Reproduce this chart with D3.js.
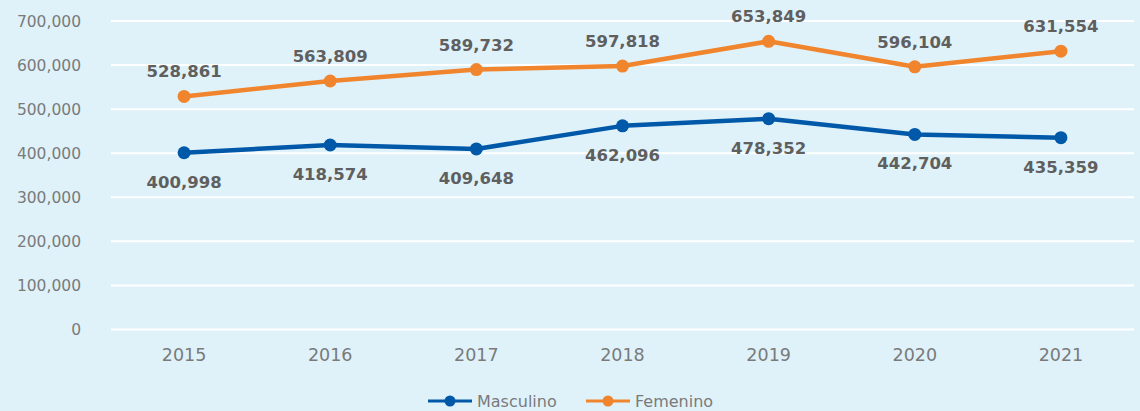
<!DOCTYPE html>
<html>
<head>
<meta charset="utf-8">
<script src="https://cdn.jsdelivr.net/npm/d3@7"></script>
<style>
  body { margin: 0; background: #dff2fa; }
  svg { display: block; }
</style>
</head>
<body>
<script>
  const years = ['2015', '2016', '2017', '2018', '2019', '2020', '2021'];
  const masculino = [400998, 418574, 409648, 462096, 478352, 442704, 435359];
  const femenino = [528861, 563809, 589732, 597818, 653849, 596104, 631554];
  const yTicks = [0, 100000, 200000, 300000, 400000, 500000, 600000, 700000];

  const width = 1140;
  const height = 411;
  const margin = { top: 21, right: 6, bottom: 81, left: 111 };

  const svg = d3.select('body')
          .append('svg')
          .attr('width', width)
          .attr('height', height);

  svg.append('rect')
          .attr('width', width)
          .attr('height', height)
          .attr('fill', '#dff2fa');

  const x = d3.scaleBand()
          .domain(years)
          .range([margin.left, width - margin.right]);

  const y = d3.scaleLinear()
          .domain([0, 700000])
          .range([height - margin.bottom - 0.5, margin.top]);

  const fmt = d3.format(',');

  // gridlines
  svg.append('g')
          .selectAll('line')
          .data(yTicks)
          .enter()
          .append('line')
          .attr('x1', margin.left)
          .attr('x2', width - margin.right)
          .attr('y1', d => y(d))
          .attr('y2', d => y(d))
          .attr('stroke', '#fff')
          .attr('stroke-width', 2);

  // y axis labels
  svg.append('g')
          .selectAll('text')
          .data(yTicks)
          .enter()
          .append('text')
          .attr('x', 81)
          .attr('y', d => y(d) + 5.5)
          .attr('text-anchor', 'end')
          .attr('font-family', 'DejaVu Sans, sans-serif')
          .attr('font-size', '15.5px')
          .attr('fill', '#7a7a7a')
          .text(d => fmt(d));

  // x axis labels
  svg.append('g')
          .selectAll('text')
          .data(years)
          .enter()
          .append('text')
          .attr('x', d => x(d) + x.bandwidth() / 2)
          .attr('y', 361)
          .attr('text-anchor', 'middle')
          .attr('font-family', 'DejaVu Sans, sans-serif')
          .attr('font-size', '17.5px')
          .attr('fill', '#7a7a7a')
          .text(d => d);

  const series = [
    { name: 'Masculino', values: masculino, color: '#0058a9', dy: 35 },
    { name: 'Femenino', values: femenino, color: '#f0852d', dy: -19 }
  ];

  const line = d3.line()
          .x((d, i) => x(years[i]) + x.bandwidth() / 2)
          .y(d => y(d));

  series.forEach(s => {
    svg.append('path')
            .datum(s.values)
            .attr('d', line)
            .attr('fill', 'none')
            .attr('stroke', s.color)
            .attr('stroke-width', 4.5)
            .attr('stroke-linejoin', 'round');

    svg.append('g')
            .selectAll('circle')
            .data(s.values)
            .enter()
            .append('circle')
            .attr('cx', (d, i) => x(years[i]) + x.bandwidth() / 2)
            .attr('cy', d => y(d))
            .attr('r', 6.5)
            .attr('fill', s.color);

    svg.append('g')
            .selectAll('text')
            .data(s.values)
            .enter()
            .append('text')
            .attr('x', (d, i) => x(years[i]) + x.bandwidth() / 2)
            .attr('y', d => y(d) + s.dy)
            .attr('text-anchor', 'middle')
            .attr('font-family', 'DejaVu Sans, sans-serif')
            .attr('font-weight', 'bold')
            .attr('font-size', '16.5px')
            .attr('fill', '#5f5f5f')
            .text(d => fmt(d));
  });

  // legend
  const legend = svg.append('g')
          .attr('transform', 'translate(428, 401)');

  const items = legend.selectAll('g')
          .data(series)
          .enter()
          .append('g')
          .attr('transform', (d, i) => `translate(${i * 158}, 0)`);

  items.append('line')
          .attr('x1', 0)
          .attr('x2', 44)
          .attr('stroke', d => d.color)
          .attr('stroke-width', 3);

  items.append('circle')
          .attr('cx', 22)
          .attr('r', 5.5)
          .attr('fill', d => d.color);

  items.append('text')
          .attr('x', 49)
          .attr('y', 6)
          .attr('font-family', 'DejaVu Sans, sans-serif')
          .attr('font-size', '16px')
          .attr('fill', '#7a7a7a')
          .text(d => d.name);
</script>
</body>
</html>
